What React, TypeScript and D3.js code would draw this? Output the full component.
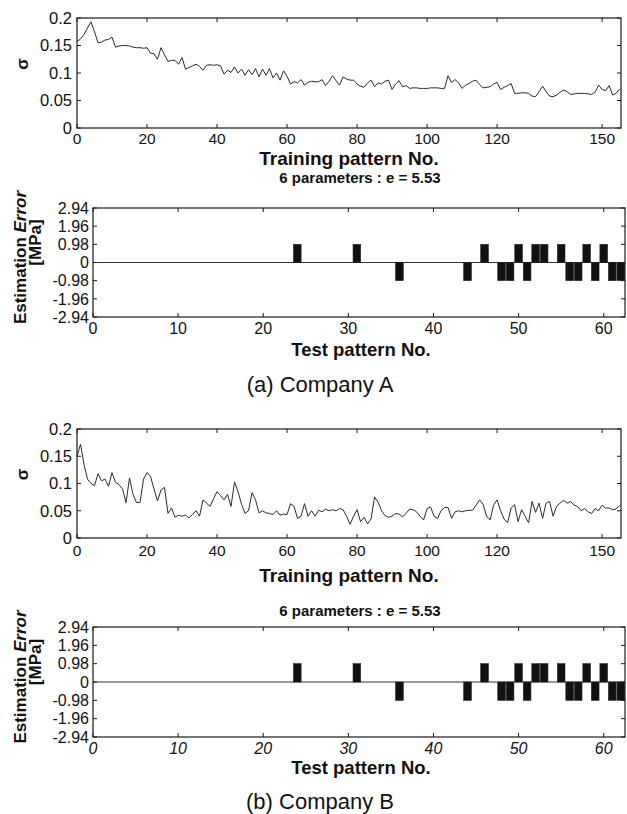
import * as d3 from "d3";

const FONT = "'Liberation Sans', Arial, Helvetica, sans-serif";

// sigma per training pattern (0..155)
const sigmaA = [
  0.157, 0.162, 0.17, 0.182, 0.193, 0.175, 0.155, 0.156, 0.16, 0.161,
  0.165, 0.147, 0.149, 0.15, 0.15, 0.149, 0.147, 0.146, 0.146, 0.145,
  0.146, 0.136, 0.135, 0.125, 0.146, 0.133, 0.121, 0.123, 0.123, 0.116,
  0.128, 0.107, 0.11, 0.113, 0.116, 0.112, 0.105, 0.114, 0.115, 0.114,
  0.115, 0.113, 0.098, 0.105, 0.101, 0.111, 0.1, 0.107, 0.096, 0.106,
  0.097, 0.108, 0.093, 0.107, 0.096, 0.108, 0.091, 0.1, 0.087, 0.104,
  0.094, 0.08, 0.084, 0.082, 0.088, 0.078, 0.083, 0.085, 0.084, 0.084,
  0.088, 0.077, 0.085, 0.095, 0.086, 0.078, 0.093, 0.089, 0.087, 0.087,
  0.08, 0.076, 0.074, 0.082, 0.087, 0.075, 0.082, 0.08, 0.085, 0.087,
  0.07, 0.08, 0.086, 0.075, 0.077, 0.072, 0.073, 0.073, 0.072, 0.072,
  0.072, 0.073, 0.073, 0.073, 0.072, 0.072, 0.095, 0.083, 0.088, 0.082,
  0.072, 0.078, 0.081, 0.085, 0.087, 0.079, 0.073, 0.074, 0.075, 0.08,
  0.083, 0.07, 0.074, 0.077, 0.081, 0.063, 0.063, 0.064, 0.064, 0.063,
  0.058, 0.057, 0.066, 0.076, 0.066, 0.058, 0.057, 0.06, 0.065, 0.069,
  0.066, 0.061, 0.062, 0.063, 0.063, 0.063, 0.062, 0.061, 0.065, 0.078,
  0.07, 0.068, 0.077, 0.06, 0.063, 0.071,
];

const sigmaB = [
  0.15, 0.172, 0.135, 0.108, 0.1, 0.096, 0.118, 0.105, 0.108, 0.095,
  0.12, 0.102, 0.098, 0.09, 0.065, 0.11, 0.08, 0.065, 0.065, 0.108,
  0.12, 0.113, 0.09, 0.068, 0.088, 0.093, 0.045, 0.055, 0.038, 0.042,
  0.04, 0.042, 0.037, 0.043, 0.05, 0.04, 0.07, 0.064, 0.058, 0.072,
  0.085, 0.078, 0.07, 0.08, 0.058, 0.103, 0.085, 0.062, 0.045, 0.05,
  0.083, 0.07, 0.046, 0.05, 0.046, 0.045, 0.043, 0.05, 0.042, 0.044,
  0.043, 0.063, 0.058, 0.036, 0.04, 0.063, 0.04, 0.05, 0.04, 0.051,
  0.048, 0.053, 0.05, 0.052, 0.05, 0.054, 0.052, 0.04, 0.025, 0.04,
  0.052, 0.03, 0.038, 0.026, 0.035, 0.075, 0.066, 0.05, 0.041, 0.038,
  0.04, 0.045, 0.044, 0.039, 0.045, 0.053, 0.052, 0.048, 0.04, 0.033,
  0.054, 0.057, 0.04, 0.036, 0.05, 0.056, 0.056, 0.036, 0.048, 0.05,
  0.048, 0.05, 0.051, 0.051, 0.06, 0.07, 0.062, 0.04, 0.033, 0.06,
  0.07, 0.05, 0.035, 0.028, 0.055, 0.061, 0.03, 0.052, 0.04, 0.028,
  0.067, 0.047, 0.064, 0.036, 0.064, 0.067, 0.04, 0.058, 0.064, 0.069,
  0.064, 0.067, 0.06, 0.058, 0.05, 0.054, 0.048, 0.045, 0.054, 0.05,
  0.06, 0.055, 0.055, 0.052, 0.053, 0.06,
];

const sigmaTicks = [0, 0.05, 0.1, 0.15, 0.2];
const sigmaTickLabels = ["0", "0.05", "0.1", "0.15", "0.2"];
const trainTicks = [0, 20, 40, 60, 80, 100, 120, 150];

const errTicks = [2.94, 1.96, 0.98, 0, -0.98, -1.96, -2.94];
const errTickLabels = ["2.94", "1.96", "0.98", "0", "-0.98", "-1.96", "-2.94"];
const testTicks = [0, 10, 20, 30, 40, 50, 60];

// test patterns with nonzero estimation error
const errPatterns = [24, 31, 36, 44, 46, 48, 49, 50, 51, 52, 53, 55, 56, 57, 58, 59, 60, 61, 62];
const errA = [0.98, 0.98, -0.98, -0.98, 0.98, -0.98, -0.98, 0.98, -0.98, 0.98, 0.98, 0.98, -0.98, -0.98, 0.98, -0.98, 0.98, -0.98, -0.98];
const errB = [0.98, 0.98, -0.98, -0.98, 0.98, -0.98, -0.98, 0.98, -0.98, 0.98, 0.98, 0.98, -0.98, -0.98, 0.98, -0.98, 0.98, -0.98, -0.98];

const TICK = 4;
const AX = "#1a1a1a";

function Frame({ l, r, t, b }: { l: number; r: number; t: number; b: number }) {
  return <rect x={l} y={t} width={r - l} height={b - t} fill="none" stroke={AX} strokeWidth={1.2} />;
}

function SigmaPanel({ values, top, bottom, tickBase, labelBase }: any) {
  const l = 77,
    r = 621;
  const x = d3.scaleLinear().domain([0, 155.4]).range([l, r]);
  const y = d3.scaleLinear().domain([0, 0.2]).range([bottom, top]);
  const line = d3
    .line<number>()
    .x((_, i) => x(i))
    .y((d) => y(d));
  return (
    <g fontFamily={FONT}>
      <path d={line(values) || ""} fill="none" stroke="#2a2a2a" strokeWidth={1} />
      <Frame l={l} r={r} t={top} b={bottom} />
      {trainTicks.map((t) => (
        <g key={t}>
          <line x1={x(t)} x2={x(t)} y1={bottom} y2={bottom - TICK} stroke={AX} />
          <line x1={x(t)} x2={x(t)} y1={top} y2={top + TICK} stroke={AX} />
          <text x={x(t)} y={tickBase} fontSize={15.5} textAnchor="middle" fill="#111">
            {t}
          </text>
        </g>
      ))}
      {sigmaTicks.map((t, i) => (
        <g key={t}>
          <line x1={l} x2={l + TICK} y1={y(t)} y2={y(t)} stroke={AX} />
          <line x1={r} x2={r - TICK} y1={y(t)} y2={y(t)} stroke={AX} />
          <text x={72} y={y(t)} dy="0.36em" fontSize={16.5} textAnchor="end" fill="#111">
            {sigmaTickLabels[i]}
          </text>
        </g>
      ))}
      <text
        transform={`translate(28,${(top + bottom) / 2 - 9}) rotate(-90)`}
        fontSize={17}
        fontWeight="bold"
        textAnchor="middle"
        fill="#111"
      >
        σ
      </text>
      <text x={(l + r) / 2} y={labelBase} fontSize={19} fontWeight="bold" textAnchor="middle" fill="#111">
        Training pattern No.
      </text>
    </g>
  );
}

function ErrorPanel({ errs, top, bottom, titleBase, tickBase, labelBase, italic }: any) {
  const l = 93,
    r = 625;
  const x = d3.scaleLinear().domain([0, 62.5]).range([l, r]);
  const y = d3.scaleLinear().domain([-2.94, 2.94]).range([bottom, top]);
  const bw = x(0.9) - x(0);
  const mid = (top + bottom) / 2;
  return (
    <g fontFamily={FONT}>
      <text x={360} y={titleBase} fontSize={15} fontWeight="bold" textAnchor="middle" fill="#111">
        6 parameters : e = 5.53
      </text>
      <line x1={l} x2={r} y1={y(0)} y2={y(0)} stroke="#333" strokeWidth={1} />
      {errPatterns.map((p, i) => (
        <rect
          key={p}
          x={x(p) - bw / 2}
          y={y(Math.max(0, errs[i]))}
          width={bw}
          height={Math.abs(y(errs[i]) - y(0))}
          fill="#111"
          stroke="#222"
          strokeWidth={0.6}
        />
      ))}
      <Frame l={l} r={r} t={top} b={bottom} />
      {testTicks.map((t) => (
        <g key={t}>
          <line x1={x(t)} x2={x(t)} y1={bottom} y2={bottom - TICK} stroke={AX} />
          <line x1={x(t)} x2={x(t)} y1={top} y2={top + TICK} stroke={AX} />
          <text
            x={x(t)}
            y={tickBase}
            fontSize={16}
            fontStyle={italic ? "italic" : "normal"}
            textAnchor="middle"
            fill="#111"
          >
            {t}
          </text>
        </g>
      ))}
      {errTicks.map((t, i) => (
        <g key={t}>
          <line x1={l} x2={l + TICK} y1={y(t)} y2={y(t)} stroke={AX} />
          <line x1={r} x2={r - TICK} y1={y(t)} y2={y(t)} stroke={AX} />
          <text x={89} y={y(t)} dy="0.36em" fontSize={16} textAnchor="end" fill="#111">
            {errTickLabels[i]}
          </text>
        </g>
      ))}
      <text
        transform={`translate(26,${mid - 5}) rotate(-90)`}
        fontSize={17}
        fontWeight="bold"
        textAnchor="middle"
        fill="#111"
      >
        Estimation <tspan fontStyle="italic">Error</tspan>
      </text>
      <text
        transform={`translate(41,${mid - 20}) rotate(-90)`}
        fontSize={17}
        fontWeight="bold"
        textAnchor="middle"
        fill="#111"
      >
        [MPa]
      </text>
      <text x={361} y={labelBase} fontSize={18.5} fontWeight="bold" textAnchor="middle" fill="#111">
        Test pattern No.
      </text>
    </g>
  );
}

export default function App() {
  return (
    <svg
      width={627}
      height={814}
      viewBox="0 0 627 814"
      style={{ position: "absolute", left: 0, top: 0, display: "block", background: "#fff" }}
    >
      <rect width={627} height={814} fill="#fff" />
      <SigmaPanel values={sigmaA} top={18} bottom={128} tickBase={144} labelBase={165} />
      <ErrorPanel errs={errA} top={208} bottom={317} titleBase={183} tickBase={334} labelBase={356} italic={false} />
      <text x={320} y={392} fontFamily={FONT} fontSize={22} textAnchor="middle" fill="#111">
        (a) Company A
      </text>
      <SigmaPanel values={sigmaB} top={429} bottom={538} tickBase={556} labelBase={582} />
      <ErrorPanel errs={errB} top={627} bottom={737} titleBase={616} tickBase={754} labelBase={774} italic={true} />
      <text x={320} y={809} fontFamily={FONT} fontSize={22} textAnchor="middle" fill="#111">
        (b) Company B
      </text>
    </svg>
  );
}
